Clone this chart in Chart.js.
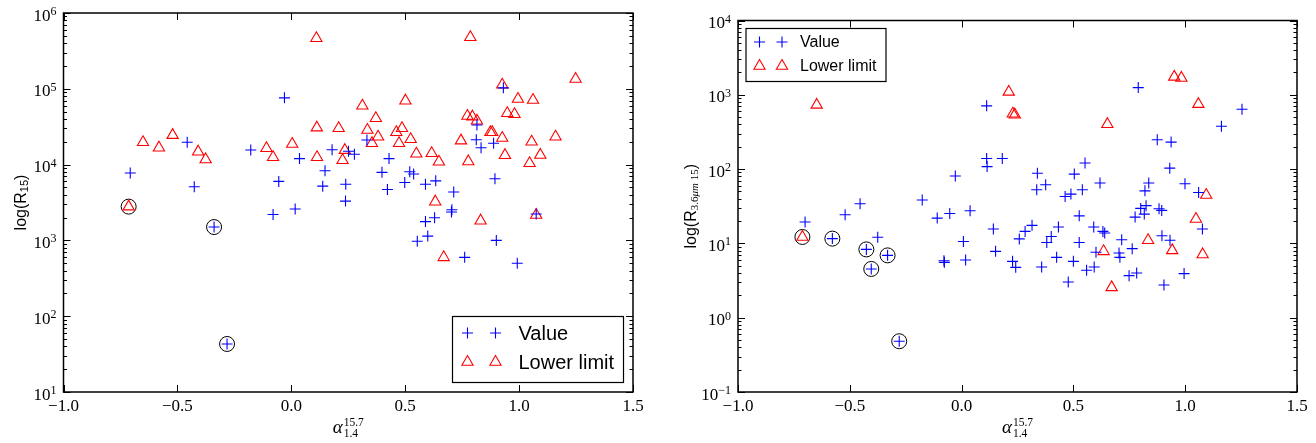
<!DOCTYPE html>
<html>
<head>
<meta charset="utf-8">
<script src="https://cdn.jsdelivr.net/npm/chart.js@4.4.1/dist/chart.umd.min.js"></script>
<style>
  html, body { margin: 0; padding: 0; background: #fff; }
  #wrap { position: relative; width: 1316px; height: 443px; }
  canvas { position: absolute; top: 0; }
  #left { left: 0; }
  #right { left: 658px; }
</style>
</head>
<body>
<div id="wrap">
  <canvas id="left" width="658" height="443"></canvas>
  <canvas id="right" width="658" height="443"></canvas>
</div>
<script>
// ---- data ----
const xTicks = [-1.0, -0.5, 0.0, 0.5, 1.0, 1.5];
const leftDecades = [1, 2, 3, 4, 5, 6];
const rightDecades = [-1, 0, 1, 2, 3, 4];
const seriesNames = ['Value', 'Lower limit'];

// left panel: R15
const leftValueX = [-0.707,-0.457,-0.426,-0.339,-0.282,-0.178,-0.030,0.036,-0.055,-0.080,0.017,0.179,0.148,0.138,0.239,0.238,0.251,0.277,0.332,0.429,0.398,0.422,0.498,0.520,0.537,0.589,0.634,0.713,0.705,0.703,0.589,0.629,0.553,0.599,0.761,0.900,0.992,1.075,0.812,0.833,0.888,0.894,0.815,0.931];
const leftValueY = [7750,19700,5100,1500,43,15600,76000,12000,6000,2200,2600,15700,8300,5200,5500,3300,15000,13700,21100,12000,7900,4700,5800,8050,7500,5500,6100,4350,2540,2370,1770,1990,973,1140,598,1000,499,2230,21300,16700,19100,6500,33300,103000];
const leftLimitX = [0.110,-0.651,-0.581,-0.521,-0.409,-0.376,-0.714,-0.109,-0.080,0.004,0.112,0.113,0.208,0.235,0.225,0.312,0.334,0.354,0.371,0.381,0.501,0.461,0.486,0.473,0.524,0.549,0.616,0.648,0.786,0.926,0.995,1.061,1.248,0.773,0.795,0.815,0.948,0.980,0.745,0.874,0.882,0.926,0.777,0.938,1.055,1.160,1.046,1.093,0.632,0.831,0.669,1.075];
const leftLimitY = [464000,19700,16700,24500,14800,11700,2790,16400,12500,18700,30700,12500,30100,15500,11400,59800,28600,19100,40800,23300,69700,26700,30100,19100,21600,13900,14100,10900,478000,113000,73300,71100,134500,43700,42900,37900,47500,46100,20700,26700,26700,22400,11000,13300,20000,23300,10400,13400,3240,1820,598,2160];
const leftCircledX = [-0.714,-0.339,-0.282];
const leftCircledY = [2790,1500,43];

// right panel: R3.6um/15
const rightValueX = [0.112,0.112,0.114,0.182,-0.028,-0.176,-0.454,-0.521,-0.109,-0.053,0.038,-0.700,-0.578,-0.375,-0.426,-0.404,-0.331,-0.279,-0.079,-0.077,0.018,0.008,0.142,0.152,0.228,0.242,0.258,0.875,0.937,0.931,0.552,0.339,0.504,0.619,0.336,0.376,0.540,0.463,0.489,0.837,0.820,0.999,1.060,0.526,0.825,0.801,0.817,0.776,0.883,0.895,0.315,0.284,0.433,0.401,0.381,0.526,0.591,0.632,0.640,0.716,0.763,0.601,0.704,0.708,0.896,0.932,1.077,0.358,0.425,0.500,0.559,0.593,0.477,0.749,0.783,0.905,0.995,0.790,1.254,1.162];
const rightValueY = [710,139,108,139,80.6,38.3,34.2,24.3,21.9,25.3,27.5,19.4,11.6,12.1,8.3,4.53,6.9,0.482,5.85,5.56,5.98,10.6,15.6,7.82,5.73,4.76,11.5,248,231,103,121,88,85.7,64.9,52.7,61.5,52.7,42.8,46.1,64.9,51,63.4,48.5,23.5,32.2,29.6,24.8,22.6,29.2,27.8,17.5,14.5,16.6,12.4,10.3,10.3,16.6,14.5,13.8,11.2,8.5,7.6,7.43,6.49,12.7,11.0,15.6,4.82,6.49,5.73,4.36,4.82,3.03,3.68,4.0,2.76,3.92,1250,640,378];
const rightLimitX = [-0.648,0.211,0.229,0.238,0.652,0.951,0.983,1.059,1.094,1.048,1.078,0.942,0.834,0.635,0.671,-0.712];
const rightLimitY = [731,1094,555,540,402,1743,1686,748,44.8,21.3,7.1,8.05,11.0,7.82,2.56,12.2];
const rightCircledX = [-0.712,-0.578,-0.426,-0.404,-0.331,-0.279];
const rightCircledY = [12.2,11.6,8.3,4.53,6.9,0.482];

// ---- drawing ----
const serif = '"Liberation Serif", "DejaVu Serif", serif';
const sans = '"Liberation Sans", Arial, sans-serif';
const blue = '#0000ff';
const red = '#ff0000';

const pts = (xs, ys) => xs.map((x, i) => ({ x: x, y: ys[i] }));
const supText = e => String(e).replace('-', '\u2212');

function drawMarker(ctx, style, x, y, r) {
    ctx.beginPath();
    if (style === 'cross') {
        ctx.moveTo(x, y - r); ctx.lineTo(x, y + r);
        ctx.moveTo(x - r, y); ctx.lineTo(x + r, y);
    } else {
        ctx.moveTo(x, y - r);
        ctx.lineTo(x + 0.866 * r, y + 0.5 * r);
        ctx.lineTo(x - 0.866 * r, y + 0.5 * r);
        ctx.closePath();
    }
    ctx.stroke();
}

function drawRich(ctx, parts, x, y) {
    let w = 0;
    parts.forEach(p => { ctx.font = p.font; w += ctx.measureText(p.t).width; });
    let cx = x - w / 2;
    parts.forEach(p => {
        ctx.font = p.font;
        ctx.fillText(p.t, cx, y + (p.dy || 0));
        cx += ctx.measureText(p.t).width;
    });
}

// matplotlib-like frame: inward ticks on all sides, log labels, titles, legend
const mplFrame = {
    id: 'mplFrame',
    afterDatasetsDraw(chart, args, opts) {
        const { ctx, chartArea: a, scales } = chart;
        const sx = scales.x, sy = scales.y;
        ctx.save();
        ctx.strokeStyle = '#000';
        ctx.fillStyle = '#000';
        ctx.lineWidth = 1;
        ctx.beginPath();
        xTicks.forEach(v => {
            const px = Math.round(sx.getPixelForValue(v)) + 0.5;
            ctx.moveTo(px, a.bottom); ctx.lineTo(px, a.bottom - 7);
            ctx.moveTo(px, a.top); ctx.lineTo(px, a.top + 7);
        });
        const dec = opts.decades;
        dec.forEach((e, i) => {
            const py = Math.round(sy.getPixelForValue(Math.pow(10, e))) + 0.5;
            ctx.moveTo(a.left, py); ctx.lineTo(a.left + 7, py);
            ctx.moveTo(a.right, py); ctx.lineTo(a.right - 7, py);
            if (i < dec.length - 1) {
                for (let m = 2; m <= 9; m++) {
                    const my = Math.round(sy.getPixelForValue(m * Math.pow(10, e))) + 0.5;
                    ctx.moveTo(a.left, my); ctx.lineTo(a.left + 3.5, my);
                    ctx.moveTo(a.right, my); ctx.lineTo(a.right - 3.5, my);
                }
            }
        });
        ctx.stroke();
        ctx.lineWidth = 1.5;
        ctx.strokeRect(a.left, a.top, a.right - a.left, a.bottom - a.top);

        // y tick labels 10^n
        ctx.textAlign = 'left';
        ctx.textBaseline = 'alphabetic';
        dec.forEach(e => {
            const py = sy.getPixelForValue(Math.pow(10, e));
            const s = supText(e);
            ctx.font = '12px ' + serif;
            const sw = ctx.measureText(s).width;
            ctx.font = '17px ' + serif;
            const bw = ctx.measureText('10').width;
            const xr = a.left - 7;
            ctx.fillText('10', xr - sw - bw, py + 7.5);
            ctx.font = '12px ' + serif;
            ctx.fillText(s, xr - sw, py + 2);
        });

        // x title: alpha^{15.7}_{1.4}
        const cx = (a.left + a.right) / 2;
        ctx.font = 'italic 19px ' + serif;
        const aw = ctx.measureText('\u03b1').width;
        ctx.font = '11.5px ' + serif;
        const tw = Math.max(ctx.measureText('15.7').width, ctx.measureText('1.4').width);
        const x0 = cx - (aw + 1 + tw) / 2;
        ctx.font = 'italic 19px ' + serif;
        ctx.fillText('\u03b1', x0, a.bottom + 41);
        ctx.font = '11.5px ' + serif;
        ctx.fillText('15.7', x0 + aw + 1, a.bottom + 34);
        ctx.fillText('1.4', x0 + aw + 1, a.bottom + 45);

        // y title, rotated
        ctx.save();
        ctx.translate(opts.yTitleX, (a.top + a.bottom) / 2);
        ctx.rotate(-Math.PI / 2);
        ctx.textBaseline = 'middle';
        drawRich(ctx, opts.yTitle, 0, 0);
        ctx.restore();

        // legend
        const L = opts.legend;
        const bx = L.corner === 'br' ? a.right - L.inset - L.w : a.left + L.inset;
        const by = L.corner === 'br' ? a.bottom - L.inset - L.h : a.top + L.inset;
        ctx.fillStyle = '#fff';
        ctx.fillRect(bx, by, L.w, L.h);
        ctx.lineWidth = 1.2;
        ctx.strokeStyle = '#000';
        ctx.strokeRect(bx, by, L.w, L.h);
        ctx.textBaseline = 'middle';
        ctx.font = L.fontSize + 'px ' + sans;
        [0, 1].forEach(i => {
            const ds = chart.data.datasets[i];
            const ry = by + L.rows[i];
            ctx.strokeStyle = ds.borderColor;
            ctx.lineWidth = 1.1;
            L.marks.forEach(mx => drawMarker(ctx, ds.pointStyle, bx + mx, ry, ds.pointRadius));
            ctx.fillStyle = '#000';
            ctx.fillText(ds.label, bx + L.textX, ry + 1);
        });
        ctx.restore();
    }
};

function makeChart(id, valueX, valueY, limitX, limitY, circX, circY, yMin, yMax, pad, yWidth, frame) {
    return new Chart(document.getElementById(id), {
        type: 'scatter',
        data: {
            datasets: [
                {
                    label: seriesNames[0],
                    data: pts(valueX, valueY),
                    pointStyle: 'cross',
                    pointRadius: 5.5,
                    pointHoverRadius: 5.5,
                    borderColor: blue,
                    borderWidth: 1.1
                },
                {
                    label: seriesNames[1],
                    data: pts(limitX, limitY),
                    pointStyle: 'triangle',
                    pointRadius: 6.5,
                    pointHoverRadius: 6.5,
                    borderColor: red,
                    backgroundColor: 'rgba(0,0,0,0)',
                    borderWidth: 1.1
                },
                {
                    label: 'circled',
                    data: pts(circX, circY),
                    pointStyle: 'circle',
                    pointRadius: 7.5,
                    pointHoverRadius: 7.5,
                    borderColor: '#000',
                    backgroundColor: 'rgba(0,0,0,0)',
                    borderWidth: 1
                }
            ]
        },
        options: {
            responsive: false,
            animation: false,
            events: [],
            layout: { padding: pad },
            scales: {
                x: {
                    type: 'linear',
                    min: -1,
                    max: 1.5,
                    grid: { display: false, drawTicks: false },
                    border: { display: false },
                    afterFit: s => { s.height = 443 - 392; },
                    ticks: {
                        stepSize: 0.5,
                        padding: 4,
                        color: '#000',
                        font: { family: serif, size: 17 },
                        callback: v => v.toFixed(1).replace('-', '\u2212')
                    }
                },
                y: {
                    type: 'logarithmic',
                    min: yMin,
                    max: yMax,
                    grid: { display: false, drawTicks: false },
                    border: { display: false },
                    afterFit: s => { s.width = yWidth; },
                    ticks: { display: false }
                }
            },
            plugins: {
                legend: { display: false },
                tooltip: { enabled: false },
                mplFrame: frame
            }
        },
        plugins: [mplFrame]
    });
}

makeChart('left', leftValueX, leftValueY, leftLimitX, leftLimitY, leftCircledX, leftCircledY,
    10, 1e6, { top: 13, right: 25, left: 0, bottom: 0 }, 63.5, {
        decades: leftDecades,
        yTitleX: 22,
        yTitle: [
            { t: 'log(R', font: '16px ' + sans },
            { t: '15', font: '11px ' + sans, dy: 3 },
            { t: ')', font: '16px ' + sans }
        ],
        legend: { corner: 'br', inset: 9.5, w: 171, h: 66, marks: [15, 43], textX: 66, rows: [16.5, 45.5], fontSize: 20 }
    });

makeChart('right', rightValueX, rightValueY, rightLimitX, rightLimitY, rightCircledX, rightCircledY,
    0.1, 1e4, { top: 20.5, right: 19, left: 0, bottom: 0 }, 80, {
        decades: rightDecades,
        yTitleX: 34,
        yTitle: [
            { t: 'log(R', font: '16px ' + sans },
            { t: '3.6', font: '11px ' + serif, dy: 3 },
            { t: '\u03bcm', font: 'italic 11px ' + serif, dy: 3 },
            { t: ' 15', font: '11px ' + serif, dy: 3 },
            { t: ')', font: '16px ' + sans }
        ],
        legend: { corner: 'tl', inset: 8, w: 140, h: 53, marks: [13.5, 36], textX: 54, rows: [13.5, 37.5], fontSize: 16 }
    });
</script>
</body>
</html>
